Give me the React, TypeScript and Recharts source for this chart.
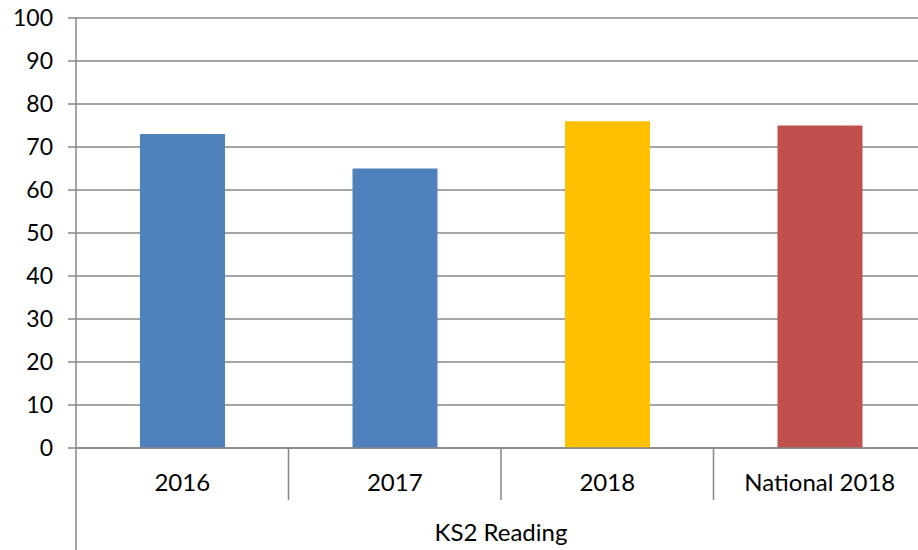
import React from 'react';
import { BarChart, Bar, XAxis, YAxis, CartesianGrid, Cell } from 'recharts';

const categories = ['2016', '2017', '2018', 'National 2018'];
const values = [73, 65, 76, 75];
const barColors = ['#4F81BD', '#4F81BD', '#FFC000', '#C0504D'];
const yTicks = [0, 10, 20, 30, 40, 50, 60, 70, 80, 90, 100];
const groupLabel = 'KS2 Reading';

const data = categories.map((c, i) => ({ name: c, value: values[i] }));

const GRAY = '#878787';
const FONT = 'Lato, "Open Sans", sans-serif';

const XTick = (props: any) => {
  const { x, y, payload, index } = props;
  const half = payload && payload.offset ? payload.offset : 0;
  return (
    <g>
      <text x={x} y={y + 43} textAnchor="middle" fontSize={24} fill="#000" fontFamily={FONT}>
        {payload.value}
      </text>
      <line x1={x + half} y1={y} x2={x + half} y2={y + 52} stroke={GRAY} strokeWidth={1.5} />
      {index === 0 && (
        <line x1={x - half} y1={y} x2={x - half} y2={y + 102} stroke={GRAY} strokeWidth={1.5} />
      )}
    </g>
  );
};

export default function App() {
  return (
    <div
      style={{
        position: 'absolute',
        left: 0,
        top: 0,
        width: 918,
        height: 550,
        overflow: 'hidden',
        background: '#fff',
        fontFamily: FONT,
      }}
    >
      <BarChart
        width={930}
        height={550}
        data={data}
        margin={{ top: 18, right: 4, bottom: 0, left: 0 }}
      >
        <CartesianGrid vertical={false} stroke={GRAY} strokeWidth={1.5} />
        <XAxis
          dataKey="name"
          height={102}
          axisLine={{ stroke: GRAY, strokeWidth: 1.5 }}
          tickLine={false}
          tickSize={0}
          tickMargin={0}
          interval={0}
          tick={<XTick />}
          label={{
            value: groupLabel,
            position: 'insideBottom',
            offset: 9,
            fontSize: 24,
            fill: '#000',
            fontFamily: FONT,
          }}
        />
        <YAxis
          width={76}
          domain={[0, 100]}
          ticks={yTicks}
          interval={0}
          axisLine={{ stroke: GRAY, strokeWidth: 1.5 }}
          tickLine={{ stroke: GRAY, strokeWidth: 1.5 }}
          tickSize={8}
          tickMargin={15}
          tick={{ fontSize: 23, fill: '#000', fontFamily: FONT }}
        />
        <Bar dataKey="value" barSize={85} isAnimationActive={false}>
          {data.map((d, i) => (
            <Cell key={d.name} fill={barColors[i]} />
          ))}
        </Bar>
      </BarChart>
    </div>
  );
}
